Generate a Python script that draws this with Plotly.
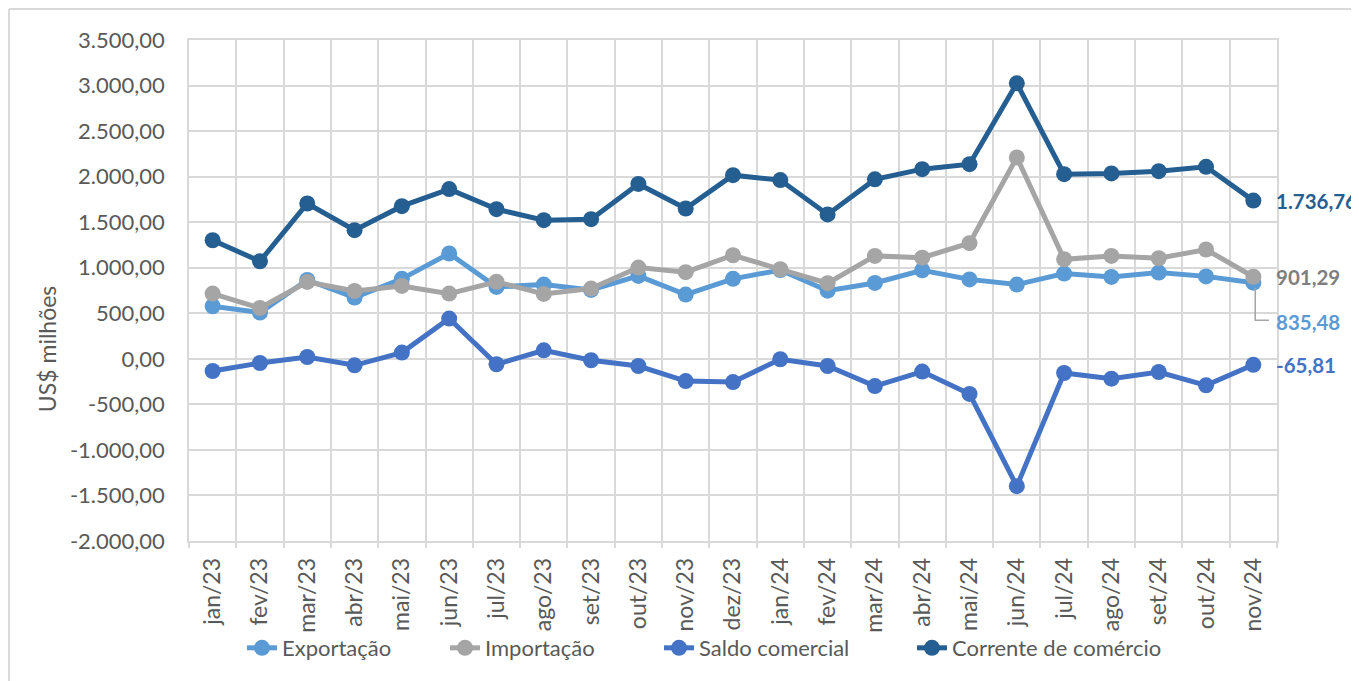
import plotly.graph_objects as go

months = ["jan/23", "fev/23", "mar/23", "abr/23", "mai/23", "jun/23", "jul/23", "ago/23",
          "set/23", "out/23", "nov/23", "dez/23", "jan/24", "fev/24", "mar/24", "abr/24",
          "mai/24", "jun/24", "jul/24", "ago/24", "set/24", "out/24", "nov/24"]

exportacao = [577, 508, 865, 672, 878, 1156, 789, 815, 756, 910, 705, 878, 975, 748, 833, 972,
              872, 815, 936, 899, 947, 905, 835.48]
importacao = [716, 558, 844, 745, 800, 716, 846, 712, 771, 1002, 951, 1137, 983, 830, 1130, 1110,
              1270, 2211, 1093, 1130, 1104, 1200, 901.29]
saldo = [-134, -46, 20, -71, 68, 442, -60, 93, -16, -79, -244, -255, -5, -79, -299, -140,
         -385, -1398, -156, -218, -145, -291, -65.81]
corrente = [1302, 1071, 1705, 1412, 1676, 1863, 1643, 1522, 1533, 1920, 1650, 2016, 1962, 1585,
            1970, 2082, 2137, 3024, 2027, 2035, 2060, 2108, 1736.76]

series_names = ["Exportação", "Importação", "Saldo comercial", "Corrente de comércio"]
series_colors = ["#5B9BD5", "#A5A5A5", "#4472C4", "#255E91"]
label_colors = ["#5B9BD5", "#7F7F7F", "#4472C4", "#255E91"]
last_labels = ["835,48", "901,29", "-65,81", "1.736,76"]

y_tickvals = [3500, 3000, 2500, 2000, 1500, 1000, 500, 0, -500, -1000, -1500, -2000]
y_ticktext = ["3.500,00", "3.000,00", "2.500,00", "2.000,00", "1.500,00", "1.000,00", "500,00",
              "0,00", "-500,00", "-1.000,00", "-1.500,00", "-2.000,00"]

FONT = "Lato"
TXT = "#595959"
GRID = "#D9D9D9"

legend_ids = ["legend", "legend2", "legend3", "legend4"]
legend_x = [0.0487, 0.2353, 0.4320, 0.6645]

fig = go.Figure()
all_series = [exportacao, importacao, saldo, corrente]
for name, vals, col, lid in zip(series_names, all_series, series_colors, legend_ids):
    fig.add_trace(go.Scatter(
        x=months, y=vals, name=name, mode="lines+markers",
        line=dict(color=col, width=5),
        marker=dict(color=col, size=16),
        legend=lid,
    ))

# end-of-line value labels
yshifts = [-39, 0, 0, 0]
for vals, txt, col, ys in zip(all_series, last_labels, label_colors, yshifts):
    fig.add_annotation(x=months[-1], y=vals[-1], text="<b>" + txt + "</b>", showarrow=False,
                       xanchor="left", yanchor="middle", xshift=21, yshift=ys,
                       font=dict(family=FONT, size=20.5, color=col))

# leader line for the Exportação label
last = len(months) - 1
fig.add_shape(type="path",
              path=f"M {last + 0.04},{importacao[-1] - 120} L {last + 0.04},{exportacao[-1] - 412} "
                   f"L {last + 0.33},{exportacao[-1] - 412}",
              xref="x", yref="y", line=dict(color="#A5A5A5", width=1.5))

# y-axis title (placed as in the reference, below the plot centre)
fig.add_annotation(xref="paper", yref="paper", x=-0.1305, y=0.383, text="US$ milhões",
                   textangle=-90, showarrow=False, xanchor="center", yanchor="middle",
                   font=dict(family=FONT, size=23, color=TXT))

# chart-area border (left and top edges visible)
fig.add_shape(type="line", xref="paper", yref="paper", x0=-0.1654, x1=-0.1654, y0=-0.4, y1=1.0619,
              line=dict(color=GRID, width=2))
fig.add_shape(type="line", xref="paper", yref="paper", x0=-0.1654, x1=1.2, y0=1.0619, y1=1.0619,
              line=dict(color=GRID, width=2))

layout_legends = {}
for lid, lx in zip(legend_ids, legend_x):
    layout_legends[lid] = dict(orientation="h", x=lx, xanchor="left", y=-0.2136, yanchor="middle",
                               font=dict(family=FONT, size=22, color=TXT), itemwidth=30,
                               bgcolor="rgba(0,0,0,0)")

fig.update_layout(
    width=1359, height=681,
    margin=dict(l=181, r=90, t=32, b=148),
    paper_bgcolor="white", plot_bgcolor="white",
    font=dict(family=FONT, size=22, color=TXT),
    showlegend=True,
    xaxis=dict(type="category", range=[-0.5, len(months) - 0.5], tickson="boundaries",
               showgrid=True, gridcolor=GRID, gridwidth=1.5,
               showline=True, linecolor=GRID, linewidth=1.5, mirror=True,
               ticks="outside", ticklen=5, tickcolor=GRID, tickwidth=1.5,
               ticklabelstandoff=6,
               tickangle=-90, tickfont=dict(family=FONT, size=23, color=TXT)),
    yaxis=dict(range=[-2000, 3500], tickvals=y_tickvals, ticktext=y_ticktext,
               showgrid=True, gridcolor=GRID, gridwidth=1.5, zeroline=False,
               showline=True, linecolor=GRID, linewidth=1.5, mirror=True,
               ticks="", ticklabelstandoff=18,
               tickfont=dict(family=FONT, size=22, color=TXT)),
    **layout_legends,
)

fig.write_html("out.html")
